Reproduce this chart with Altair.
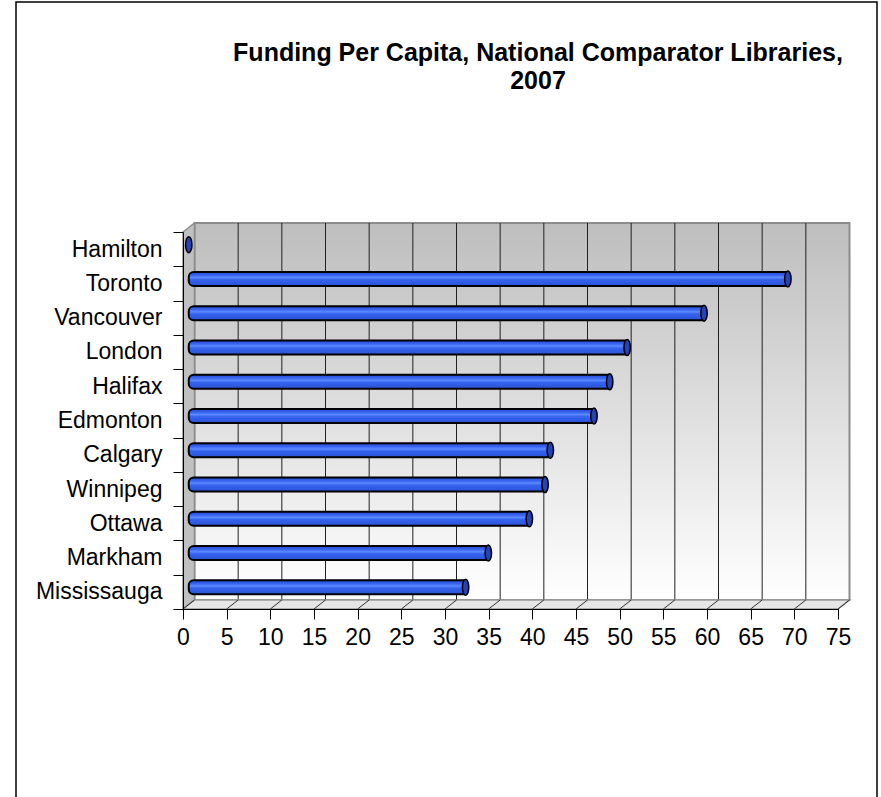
import altair as alt
import pandas as pd

# ---- data ----
cities = ["Hamilton", "Toronto", "Vancouver", "London", "Halifax", "Edmonton",
          "Calgary", "Winnipeg", "Ottawa", "Markham", "Mississauga"]
funding = [0.0, 68.6, 59.0, 50.2, 48.2, 46.4, 41.4, 40.8, 39.0, 34.3, 31.7]
x_ticks = list(range(0, 80, 5))
title_lines = ["Funding Per Capita, National Comparator Libraries,", "2007"]

# ---- layout constants ----
W, H = 655, 377          # front plot area
DX, DY = 11.5, 9         # 3-D depth offset (right, up)
FONT = "Liberation Sans"

df = pd.DataFrame({"city": cities, "funding": funding})
ticks_df = pd.DataFrame({"v": x_ticks})
inner_ticks = pd.DataFrame({"v": [t for t in x_ticks if 0 < t < 75]})
one = pd.DataFrame({"k": [0]})

xscale = alt.Scale(domain=[0, 75], nice=False, zero=True)
yscale = alt.Scale(domain=cities, paddingInner=0, paddingOuter=0)

xaxis = alt.Axis(values=x_ticks, title=None, grid=False, labelFont=FONT, labelFontSize=23,
                 labelColor="black", tickColor="black", tickSize=10, tickWidth=1,
                 domainColor="black", domainWidth=1, labelPadding=7, labelFlush=False,
                 zindex=1)
yaxis = alt.Axis(title=None, grid=False, labelFont=FONT, labelFontSize=23, labelColor="black",
                 tickColor="black", tickSize=10, tickWidth=1, domainColor="black",
                 domainWidth=1, labelPadding=11, tickBand="extent", zindex=1)

# outer frame
frame = alt.Chart(one).mark_rect(fillOpacity=0, stroke="black", strokeWidth=1.5).encode(
    x=alt.value(16 - 183), x2=alt.value(877 - 183), y=alt.value(2 - 232), y2=alt.value(810 - 232)
)

# back wall with gradient
wall_grad = alt.Gradient(gradient="linear", x1=0, x2=0, y1=0, y2=1,
                         stops=[alt.GradientStop(color="#bebebe", offset=0),
                                alt.GradientStop(color="#ffffff", offset=1)])
back_wall = alt.Chart(one).mark_rect(fill=wall_grad, stroke="#8c8c8c", strokeWidth=2).encode(
    x=alt.value(DX), x2=alt.value(W + DX), y=alt.value(-DY), y2=alt.value(H - DY)
)

# vertical gridlines on back wall
grid = alt.Chart(inner_ticks).mark_rule(color="#202020", strokeWidth=1, xOffset=DX).encode(
    x=alt.X("v:Q", scale=xscale, axis=xaxis), y=alt.value(-DY), y2=alt.value(H - DY)
)

# left wall and floor as custom paths (pixel units, size=4 -> scale 1)
left_path = f"M0,0L{DX},{-DY}L{DX},{H - DY}L0,{H}Z"
floor_path = f"M0,{H}L{W},{H}L{W + DX},{H - DY}L{DX},{H - DY}Z"
left_wall = alt.Chart(one).mark_point(shape=left_path, size=4, filled=True, fill="#c0c0c0",
                                      stroke="#8c8c8c", strokeWidth=1.5, opacity=1).encode(
    x=alt.value(0), y=alt.value(0))
floor = alt.Chart(one).mark_point(shape=floor_path, size=4, filled=True, fill="#e6e6e6",
                                  stroke="#9a9a9a", strokeWidth=1.5, opacity=1).encode(
    x=alt.value(0), y=alt.value(0))

# floor diagonals
floor_lines = alt.Chart(ticks_df).mark_rule(color="#303030", strokeWidth=1, x2Offset=DX).encode(
    x=alt.X("v:Q", scale=xscale, axis=xaxis), x2="v:Q", y=alt.value(H), y2=alt.value(H - DY)
)

# bars
bar_grad = alt.Gradient(gradient="linear", x1=0, x2=0, y1=0, y2=1,
                        stops=[alt.GradientStop(color="#2448d0", offset=0),
                               alt.GradientStop(color="#3a66f2", offset=0.25),
                               alt.GradientStop(color="#5c8aff", offset=0.4),
                               alt.GradientStop(color="#3563ee", offset=0.55),
                               alt.GradientStop(color="#2a52d8", offset=1)])
bars = alt.Chart(df).mark_bar(size=14, fill=bar_grad, stroke="black", strokeWidth=2,
                              xOffset=DX / 2, x2Offset=DX / 2, yOffset=-DY / 2,
                              cornerRadiusTopLeft=5, cornerRadiusBottomLeft=5).encode(
    y=alt.Y("city:N", scale=yscale, axis=yaxis, sort=cities),
    x=alt.X("funding:Q", scale=xscale, axis=xaxis, stack=None),
    x2=alt.datum(0),
)

ellipse = ("M0,-1C0.22,-1 0.4,-0.55 0.4,0C0.4,0.55 0.22,1 0,1"
           "C-0.22,1 -0.4,0.55 -0.4,0C-0.4,-0.55 -0.22,-1 0,-1Z")
caps = alt.Chart(df).mark_point(shape=ellipse, size=256, filled=True, fill="#2343b8",
                                stroke="black", strokeWidth=1.5, opacity=1,
                                xOffset=DX / 2, yOffset=-DY / 2).encode(
    y=alt.Y("city:N", scale=yscale, axis=yaxis, sort=cities),
    x=alt.X("funding:Q", scale=xscale, axis=xaxis),
)

title = alt.Chart(one).mark_text(font=FONT, fontWeight="bold", fontSize=25, align="center",
                                 baseline="top", lineHeight=28, color="black").encode(
    text=alt.value(title_lines), x=alt.value(538 - 183), y=alt.value(41 - 232)
)

chart = alt.layer(frame, back_wall, grid, left_wall, floor, floor_lines, bars, caps, title).properties(
    width=W, height=H,
    padding={"left": 183, "top": 232, "right": 881 - 183 - W, "bottom": 797 - 232 - H},
    autosize=alt.AutoSizeParams(type="none"),
).configure_view(stroke=None).configure(background="white")

chart.save("out.html", embed_options={"renderer": "svg", "actions": False})
